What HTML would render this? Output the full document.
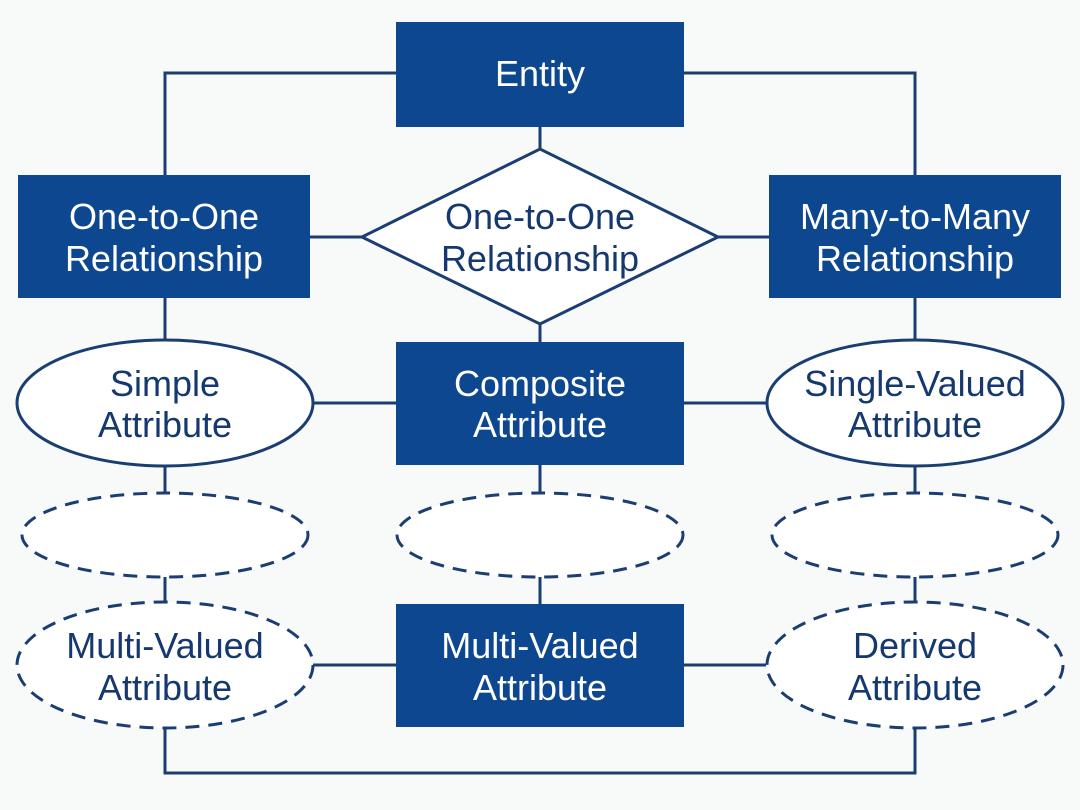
<!DOCTYPE html>
<html><head><meta charset="utf-8"><style>
html,body{margin:0;padding:0;background:#f8f9f9;}
svg{display:block;}
text{font-family:"Liberation Sans",sans-serif;font-size:36px;text-anchor:middle;}
.w{fill:#fff;} .b{fill:#15386f;}
</style></head><body>
<svg width="1080" height="810" viewBox="0 0 1080 810">
<g stroke="#1a3e72" stroke-width="3" fill="none">
<polyline points="396,73 165,73 165,175"/>
<polyline points="684,73 915,73 915,175"/>
<line x1="540" y1="127" x2="540" y2="149"/>
<line x1="310" y1="237" x2="362" y2="237"/>
<line x1="718" y1="237" x2="769" y2="237"/>
<line x1="165" y1="298" x2="165" y2="340"/>
<line x1="915" y1="298" x2="915" y2="340"/>
<line x1="540" y1="324" x2="540" y2="342"/>
<line x1="313" y1="403" x2="396" y2="403"/>
<line x1="684" y1="403" x2="766" y2="403"/>
<line x1="165" y1="466" x2="165" y2="493"/>
<line x1="540" y1="465" x2="540" y2="493"/>
<line x1="915" y1="466" x2="915" y2="493"/>
<line x1="165" y1="577" x2="165" y2="602"/>
<line x1="540" y1="577" x2="540" y2="604"/>
<line x1="915" y1="577" x2="915" y2="602"/>
<line x1="313" y1="665" x2="396" y2="665"/>
<line x1="684" y1="665" x2="766" y2="665"/>
<polyline points="165,728 165,773 915,773 915,728"/>
</g>
<g fill="#0d4790">
<rect x="396" y="22" width="288" height="105"/>
<rect x="18" y="175" width="292" height="123"/>
<rect x="769" y="175" width="292" height="123"/>
<rect x="396" y="342" width="288" height="123"/>
<rect x="396" y="604" width="288" height="123"/>
</g>
<polygon points="362,237 540,149 718,237 540,324" fill="#fff" stroke="#1a3e72" stroke-width="3"/>
<g fill="#fff" stroke="#1a3e72" stroke-width="3">
<ellipse cx="165" cy="403" rx="148" ry="63"/>
<ellipse cx="915" cy="403" rx="148" ry="63"/>
</g>
<g fill="#fff" stroke="#1a3e72" stroke-width="3" stroke-dasharray="14,9">
<ellipse cx="165" cy="535" rx="143" ry="42"/>
<ellipse cx="540" cy="535" rx="143" ry="42"/>
<ellipse cx="915" cy="535" rx="143" ry="42"/>
<ellipse cx="165" cy="665" rx="148" ry="63"/>
<ellipse cx="915" cy="665" rx="148" ry="63"/>
</g>
<text class="w" x="540" y="86">Entity</text>
<text class="w" x="164" y="229">One-to-One</text>
<text class="w" x="164" y="271">Relationship</text>
<text class="b" x="540" y="229">One-to-One</text>
<text class="b" x="540" y="271">Relationship</text>
<text class="w" x="915" y="229">Many-to-Many</text>
<text class="w" x="915" y="271">Relationship</text>
<text class="b" x="165" y="396">Simple</text>
<text class="b" x="165" y="437">Attribute</text>
<text class="w" x="540" y="396">Composite</text>
<text class="w" x="540" y="437">Attribute</text>
<text class="b" x="915" y="396">Single-Valued</text>
<text class="b" x="915" y="437">Attribute</text>
<text class="b" x="165" y="658">Multi-Valued</text>
<text class="b" x="165" y="700">Attribute</text>
<text class="w" x="540" y="658">Multi-Valued</text>
<text class="w" x="540" y="700">Attribute</text>
<text class="b" x="915" y="658">Derived</text>
<text class="b" x="915" y="700">Attribute</text>
</svg>
</body></html>
